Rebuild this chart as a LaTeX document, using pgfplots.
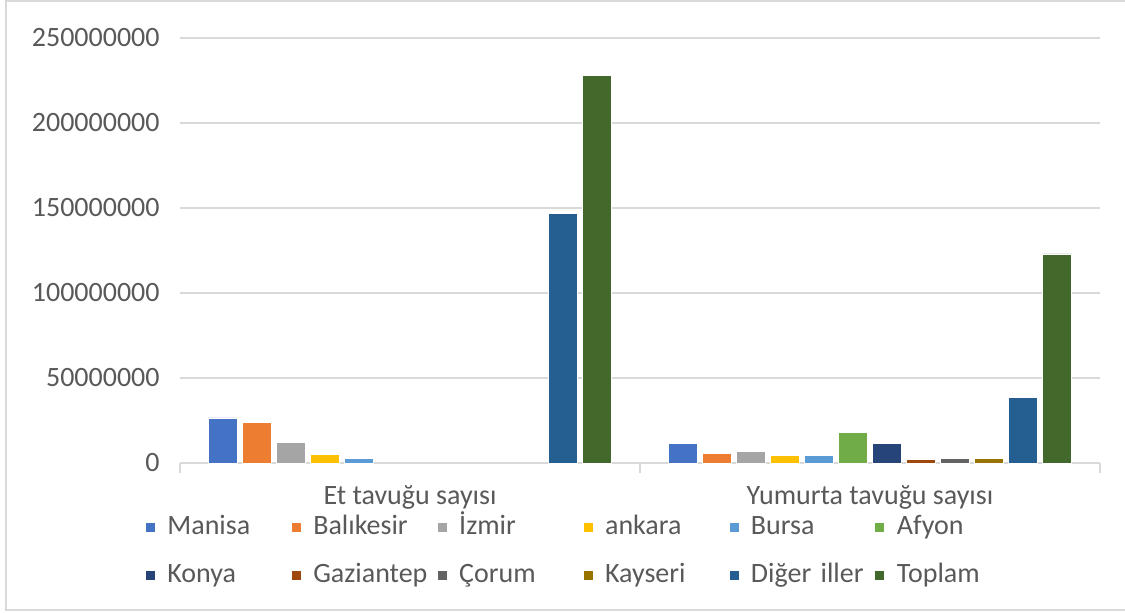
\documentclass[border=0pt]{standalone}
\usepackage{pgfplots}
\pgfplotsset{compat=1.18}
\usepackage{fontspec}
\setmainfont{Carlito}
\definecolor{cManisa}{HTML}{4472C4}
\definecolor{cBalikesir}{HTML}{ED7D31}
\definecolor{cIzmir}{HTML}{A5A5A5}
\definecolor{cAnkara}{HTML}{FFC000}
\definecolor{cBursa}{HTML}{5B9BD5}
\definecolor{cAfyon}{HTML}{70AD47}
\definecolor{cKonya}{HTML}{264478}
\definecolor{cGaziantep}{HTML}{9E480E}
\definecolor{cCorum}{HTML}{636363}
\definecolor{cKayseri}{HTML}{997300}
\definecolor{cDiger}{HTML}{255E91}
\definecolor{cToplam}{HTML}{43682B}
\definecolor{gridc}{HTML}{D9D9D9}
\definecolor{txt}{HTML}{595959}
\begin{document}
\begin{tikzpicture}
\useasboundingbox (0,0) rectangle (562.5pt,306pt);
\draw[gridc, line width=0.75pt] (562.5pt,305.4pt) -- (3pt,305.4pt) -- (3pt,1pt) -- (562.5pt,1pt);
\begin{axis}[
  at={(90pt,74.5pt)}, anchor=south west,
  scale only axis, width=460pt, height=212.5pt,
  font=\fontsize{14}{17}\selectfont,
  /pgf/number format/assume math mode=true,
  xmin=-0.5, xmax=1.5, ymin=0, ymax=250000000,
  scaled y ticks=false,
  ybar=2.5pt, bar width=14.5pt,
  axis x line*=bottom, axis y line*=left,
  y axis line style={draw=none},
  x axis line style={draw=gridc, line width=0.75pt},
  xtick={0,1}, xticklabels={Et tavuğu sayısı, Yumurta tavuğu sayısı},
  minor xtick={-0.5,0.5,1.5},
  major tick length=0pt, minor tick length=5pt, tick align=outside,
  minor tick style={draw=gridc, line width=0.75pt},
  ytick={0,50000000,100000000,150000000,200000000,250000000},
  yticklabels={0,50000000,100000000,150000000,200000000,250000000},
  ymajorgrids, grid style={draw=gridc, line width=0.75pt},
  xticklabel style={text=txt, anchor=base, inner sep=0pt, yshift=-20.5pt},
  yticklabel style={text=txt, anchor=east, inner sep=0pt, xshift=-10pt},
  every axis plot/.append style={draw=white, line width=0.4pt},
  legend columns=6,
  legend image code/.code={\fill[#1, draw=none] (0pt,-2.25pt) rectangle (4.5pt,2.25pt); \path (10.5pt,0pt);},
  legend style={at={(axis description cs:0,0)}, anchor=north west,
    xshift=-17pt, yshift=-25.5pt, draw=none, fill=none,
    inner sep=0pt, outer sep=0pt, row sep=10.5pt,
    font=\fontsize{14}{17}\selectfont, text=txt,
    cells={anchor=west},
    nodes={inner sep=0pt, text width=62.25pt, text height=10pt, text depth=3.5pt, align=left}},
]
\addplot[fill=cManisa] coordinates {(0,26500000) (1,11300000)};
\addlegendentry{Manisa}
\addplot[fill=cBalikesir] coordinates {(0,24000000) (1,5400000)};
\addlegendentry{Balıkesir}
\addplot[fill=cIzmir] coordinates {(0,12000000) (1,6600000)};
\addlegendentry{İzmir}
\addplot[fill=cAnkara] coordinates {(0,5000000) (1,4600000)};
\addlegendentry{ankara}
\addplot[fill=cBursa] coordinates {(0,2700000) (1,4600000)};
\addlegendentry{Bursa}
\addplot[fill=cAfyon] coordinates {(1,17900000)};
\addlegendentry{Afyon}
\addplot[fill=cKonya] coordinates {(1,11300000)};
\addlegendentry{Konya}
\addplot[fill=cGaziantep] coordinates {(1,2200000)};
\addlegendentry{Gaziantep}
\addplot[fill=cCorum] coordinates {(1,3000000)};
\addlegendentry{Çorum}
\addplot[fill=cKayseri] coordinates {(1,3000000)};
\addlegendentry{Kayseri}
\addplot[fill=cDiger] coordinates {(0,147000000) (1,38300000)};
\addlegendentry{Diğer iller}
\addplot[fill=cToplam] coordinates {(0,228000000) (1,123000000)};
\addlegendentry{Toplam}
\end{axis}
\end{tikzpicture}
\end{document}
